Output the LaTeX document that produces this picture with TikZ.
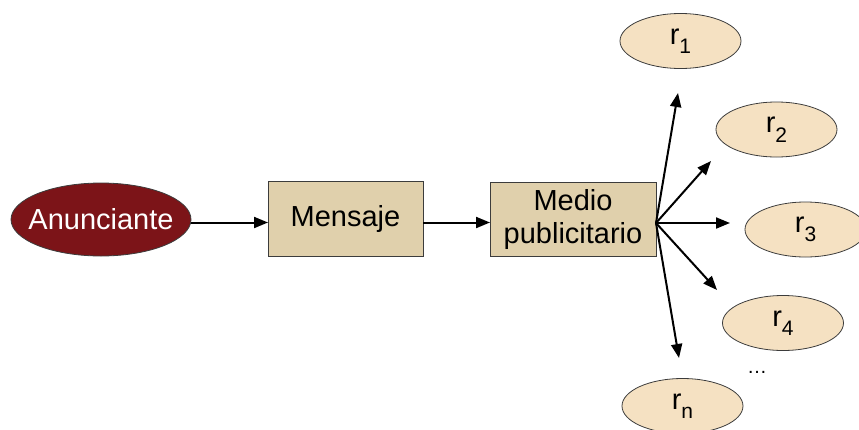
\documentclass[tikz,border=0pt]{standalone}
\usepackage{fontspec}
\setmainfont{Liberation Sans}
\usetikzlibrary{arrows.meta,shapes.geometric}

\definecolor{sender}{RGB}{124,20,24}
\definecolor{boxfill}{RGB}{224,208,172}
\definecolor{recfill}{RGB}{245,225,194}
\definecolor{edge}{RGB}{60,60,60}

\newcommand{\recv}[1]{r\raisebox{-0.33em}{\fontsize{21}{21}\selectfont #1}}

\begin{document}
\begin{tikzpicture}[x=1pt,y=-1pt,
  every node/.style={font=\fontsize{29}{33}\selectfont, inner sep=0pt, outer sep=0pt},
  sendernode/.style={ellipse, draw=edge, line width=0.8pt, fill=sender, text=white,
    inner xsep=-9pt, minimum width=180pt, minimum height=73pt},
  stagebox/.style={rectangle, draw=edge, line width=0.8pt, fill=boxfill,
    align=center},
  recnode/.style={ellipse, draw=edge, line width=0.8pt, fill=recfill,
    minimum width=121pt, minimum height=55pt},
  flow/.style={line width=2pt, -{Triangle[length=14pt,width=11pt]}}]

  \useasboundingbox (0,0) rectangle (859,429);

  % main chain
  \node[sendernode] (anun) at (101,219.5) {Anunciante};
  \node[stagebox, minimum width=155pt, minimum height=75pt] (msg) at (345.5,218.5) {Mensaje};
  \node[stagebox, minimum width=166pt, minimum height=74pt] (medio) at (573,219)
    {Medio\\publicitario};

  \draw[flow] (anun.east |- 0,222.5) -- (msg.west |- 0,222.5);
  \draw[flow] (msg.east |- 0,222.5) -- (medio.west |- 0,222.5);

  % receivers
  \node[recnode] (r1) at (680.5,41) {\recv{1}};
  \node[recnode] (r2) at (776.5,129.5) {\recv{2}};
  \node[recnode] (r3) at (805.5,229.5) {\recv{3}};
  \node[recnode] (r4) at (783,323) {\recv{4}};
  \node[recnode] (rn) at (682.5,406) {\recv{n}};
  \node (dots) at (757,372) {\fontsize{20}{20}\selectfont\ldots};

  % fan of arrows out of the medium
  \coordinate (fan) at (656,223);
  \coordinate (t1) at (678,93);
  \coordinate (t2) at (711,161);
  \coordinate (t3) at (730,223);
  \coordinate (t4) at (717,290);
  \coordinate (tn) at (679,358);
  \foreach \t in {t1,t2,t3,t4,tn}
    \draw[flow] (fan) -- (\t);
\end{tikzpicture}
\end{document}
